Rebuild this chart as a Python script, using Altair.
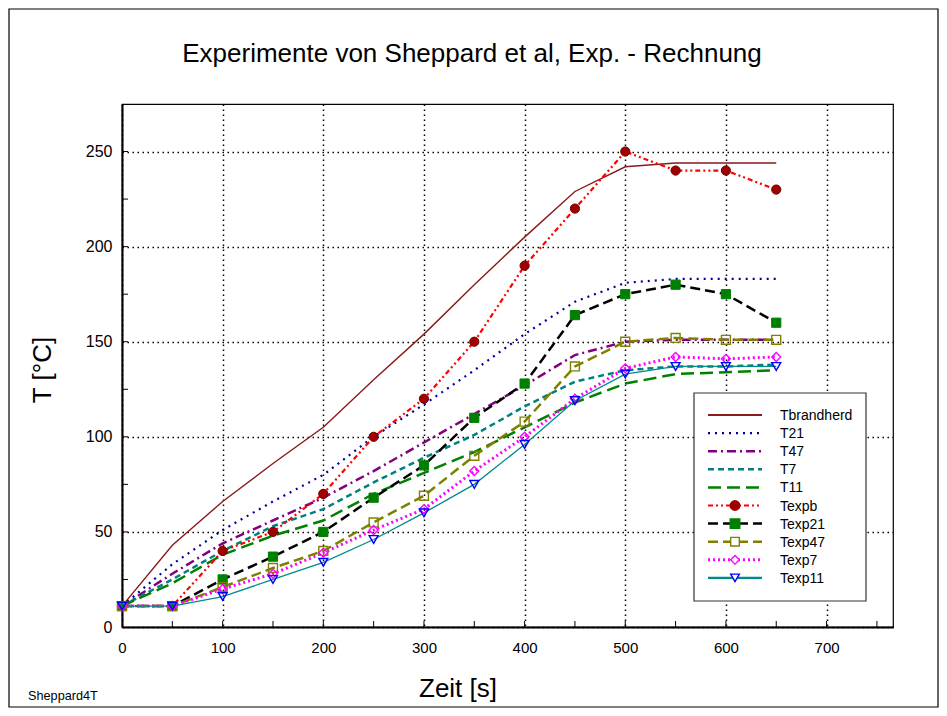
import altair as alt
import pandas as pd

# ---------------- data ----------------
time_s = [0, 50, 100, 150, 200, 250, 300, 350, 400, 450, 500, 550, 600, 650]

Tbrandherd = [11, 43, 66, 86, 105, 130, 154, 180, 205, 229, 242, 244, 244, 244]
T21 = [11, 33, 51, 66, 80, 100, 117, 135, 154, 171, 181, 183, 183, 183]
T47 = [11, 28, 44, 56, 68, 82, 97, 112, 127, 143, 150, 151, 151, 151]
T7 = [11, 25, 40, 53, 62, 76, 89, 101, 116, 129, 135, 137, 137, 138]
T11 = [11, 23, 38, 48, 56, 70, 81, 92, 105, 118, 128, 133, 134, 135]
Texpb = [11, 11, 40, 50, 70, 100, 120, 150, 190, 220, 250, 240, 240, 230]
Texp21 = [11, 11, 25, 37, 50, 68, 85, 110, 128, 164, 175, 180, 175, 160]
Texp47 = [11, 11, 21, 31, 40, 55, 69, 90, 108, 137, 150, 152, 151, 151]
Texp7 = [11, 11, 20, 28, 39, 51, 62, 82, 100, 120, 136, 142, 141, 142]
Texp11 = [11, 11, 16, 25, 34, 46, 60, 75, 96, 119, 133, 137, 137, 137]

series_names = ["Tbrandherd", "T21", "T47", "T7", "T11",
                "Texpb", "Texp21", "Texp47", "Texp7", "Texp11"]
series_values = [Tbrandherd, T21, T47, T7, T11, Texpb, Texp21, Texp47, Texp7, Texp11]

x_ticks = [0, 100, 200, 300, 400, 500, 600, 700]
y_ticks = [0, 50, 100, 150, 200, 250]
x_minor = [50, 100, 150, 200, 250, 300, 350, 400, 450, 500, 550, 600, 650, 700, 750]
y_minor = [25, 50, 75, 100, 125, 150, 175, 200, 225, 250]

title_text = "Experimente von Sheppard et al, Exp. - Rechnung"
x_title = "Zeit [s]"
y_title = "T [°C]"
footer_text = "Sheppard4T"

# ---------------- styles ----------------
FONT = "Liberation Sans"
W, H = 771, 523
styles = {
    "Tbrandherd": dict(color="#8b1a1a", dash=None, width=1.4, shape=None),
    "T21": dict(color="#000099", dash=[2, 5], width=2.2, shape=None),
    "T47": dict(color="#800080", dash=[9, 4, 2, 4], width=2.5, shape=None),
    "T7": dict(color="#008080", dash=[6, 4], width=2.5, shape=None),
    "T11": dict(color="#008000", dash=[13, 6], width=2.5, shape=None),
    "Texpb": dict(color="#ff0000", dash=[5, 3, 2, 3, 2, 3], width=2.2,
                  shape="circle", mcolor="#a00000", filled=True),
    "Texp21": dict(color="#000000", dash=[10, 5], width=2.5,
                   shape="square", mcolor="#008000", filled=True),
    "Texp47": dict(color="#808000", dash=[10, 5], width=2.5,
                   shape="square", mcolor="#808000", filled=False),
    "Texp7": dict(color="#ff00ff", dash=[2, 3], width=3,
                  shape="diamond", mcolor="#ff00ff", filled=False),
    "Texp11": dict(color="#008b8b", dash=None, width=1.3,
                   shape="triangle-down", mcolor="#0000ff", filled=False),
}

x_scale = alt.Scale(domain=[0, 766], nice=False, zero=True)
y_scale = alt.Scale(domain=[0, 275], nice=False, zero=True)
x_axis = alt.Axis(values=x_ticks, title=None, grid=True, ticks=False, tickSize=0,
                  labelPadding=13, labelFontSize=15, labelFont=FONT, labelColor="black",
                  labelFlush=False, labelOverlap=False,
                  domainColor="black", domainWidth=2,
                  gridColor="black", gridDash=[1.5, 3.5], gridWidth=1.5, gridOpacity=1)
y_axis = alt.Axis(values=y_ticks, title=None, grid=True, ticks=False, tickSize=0,
                  labelPadding=10, labelFontSize=16, labelFont=FONT, labelColor="black",
                  labelFlush=False, labelOverlap=False,
                  domainColor="black", domainWidth=2,
                  gridColor="black", gridDash=[1.5, 3.5], gridWidth=1.5, gridOpacity=1)

def X(field):
    return alt.X(field, scale=x_scale, axis=x_axis)

def Y(field):
    return alt.Y(field, scale=y_scale, axis=y_axis)

layers = []

# inward ticks (drawn first, below the data)
layers.append(alt.Chart(pd.DataFrame({"t": [0] * len(y_minor), "T": y_minor})).mark_rule(
    color="black", strokeWidth=1).encode(y=Y("T:Q"), x=alt.value(0), x2=alt.value(6)))
layers.append(alt.Chart(pd.DataFrame({"t": x_minor, "T": [0] * len(x_minor)})).mark_rule(
    color="black", strokeWidth=1).encode(x=X("t:Q"), y=alt.value(H), y2=alt.value(H - 6)))

for name, vals in zip(series_names, series_values):
    st = styles[name]
    df = pd.DataFrame({"t": time_s, "T": vals})
    kw = dict(color=st["color"], strokeWidth=st["width"])
    if st["dash"]:
        kw["strokeDash"] = st["dash"]
    layers.append(alt.Chart(df).mark_line(**kw).encode(x=X("t:Q"), y=Y("T:Q")))

for name, vals in zip(series_names, series_values):
    st = styles[name]
    if not st["shape"]:
        continue
    df = pd.DataFrame({"t": time_s, "T": vals})
    if st["filled"]:
        pk = dict(shape=st["shape"], filled=True, fill=st["mcolor"],
                  stroke="#700000" if name == "Texpb" else st["mcolor"],
                  strokeWidth=1, size=85, opacity=1)
    else:
        pk = dict(shape=st["shape"], filled=False, stroke=st["mcolor"],
                  strokeWidth=1.4, size=80, opacity=1)
    layers.append(alt.Chart(df).mark_point(**pk).encode(x=X("t:Q"), y=Y("T:Q")))

# legend box
one = pd.DataFrame({"k": [0]})
layers.append(alt.Chart(one).mark_rect(fill="white", stroke="#333333", strokeWidth=1.2).encode(
    x=alt.value(572), x2=alt.value(744), y=alt.value(289), y2=alt.value(497)))

leg_y0, leg_dy = 311, 18.1
for i, name in enumerate(series_names):
    st = styles[name]
    yy = leg_y0 + i * leg_dy
    kw = dict(color=st["color"], strokeWidth=max(st["width"], 2.2))
    if st["dash"]:
        kw["strokeDash"] = st["dash"]
    ldf = pd.DataFrame({"name": [name]})
    layers.append(alt.Chart(ldf).mark_rule(**kw).encode(
        x=alt.value(586), x2=alt.value(640), y=alt.value(yy)))
    if st["shape"]:
        if st["filled"]:
            pk = dict(shape=st["shape"], filled=True, fill=st["mcolor"], stroke=st["mcolor"], size=80, opacity=1)
        else:
            pk = dict(shape=st["shape"], filled=True, fill="white", stroke=st["mcolor"],
                      strokeWidth=1.4, size=75, opacity=1)
        layers.append(alt.Chart(ldf).mark_point(**pk).encode(x=alt.value(613), y=alt.value(yy)))
    layers.append(alt.Chart(ldf).mark_text(align="left", baseline="middle", font=FONT, fontSize=14,
                                           color="black").encode(
        x=alt.value(658), y=alt.value(yy + 1), text="name:N"))

# titles and annotations
def label(text, x, y, size, angle=0, align="center"):
    kw = dict(align=align, baseline="alphabetic", font=FONT, fontSize=size, color="black")
    if angle:
        kw["angle"] = angle
    return alt.Chart(pd.DataFrame({"s": [text]})).mark_text(**kw).encode(
        x=alt.value(x), y=alt.value(y), text="s:N")

layers.append(label(title_text, 350, -42, 26))
layers.append(label(x_title, 336, 593, 26))
layers.append(label(y_title, -71, 266, 26, angle=270))
layers.append(label(footer_text, -94, 596, 12.7, align="left"))

# outer frame
layers.append(alt.Chart(one).mark_rect(fill=None, stroke="black", strokeWidth=1.2).encode(
    x=alt.value(-113), x2=alt.value(816), y=alt.value(-95), y2=alt.value(603)))

chart = alt.layer(*layers).properties(
    width=W, height=H,
    autosize=alt.AutoSizeParams(type="none"),
    padding={"left": 114, "top": 96, "right": 46, "bottom": 81},
    background="white",
).configure_view(stroke="black", strokeWidth=1.2)

chart.save("out.html", embed_options={"renderer": "svg", "actions": False})
